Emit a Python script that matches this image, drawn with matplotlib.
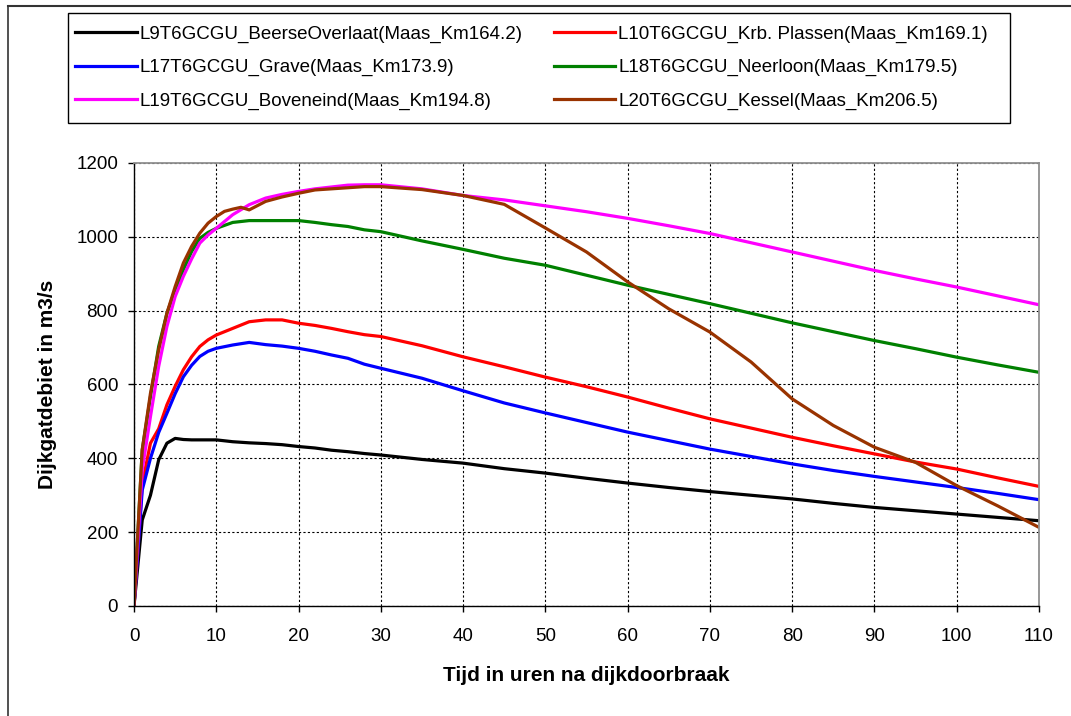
import matplotlib.pyplot as plt
from matplotlib.lines import Line2D
from matplotlib.patches import Rectangle

plt.rcParams['font.family'] = ['Liberation Sans', 'DejaVu Sans']

# hours after the breach
hours = [0, 1, 2, 3, 4, 5, 6, 7, 8, 9, 10, 12, 14, 16, 18, 20, 22, 24, 26, 28, 30,
         35, 40, 45, 50, 55, 60, 65, 70, 75, 80, 85, 90, 95, 100, 105, 110]
hours_kessel = [0, 1, 2, 3, 4, 5, 6, 7, 8, 9, 10, 11, 12, 13, 14, 16, 18, 20, 22, 24, 26, 28, 30,
                35, 40, 45, 50, 55, 60, 65, 70, 75, 80, 85, 90, 95, 100, 105, 110]

q_beerse = [0, 233, 300, 396, 441, 454, 451, 450, 450, 450, 450, 445, 442, 440, 437, 432, 428, 422, 418, 413, 409,
            397, 387, 372, 360, 346, 333, 321, 310, 300, 290, 278, 267, 258, 249, 240, 231]
q_plassen = [0, 330, 441, 480, 545, 595, 640, 675, 703, 721, 734, 752, 770, 775, 775, 766, 760, 752, 743, 735, 730,
             705, 675, 648, 620, 594, 566, 536, 507, 482, 457, 434, 412, 390, 371, 347, 324]
q_grave = [0, 314, 400, 470, 522, 575, 621, 652, 676, 690, 698, 707, 714, 708, 704, 698, 690, 680, 671, 655, 644,
           617, 583, 550, 523, 497, 471, 448, 425, 405, 385, 367, 351, 336, 321, 305, 288]
q_neerloon = [0, 423, 567, 703, 793, 856, 911, 960, 996, 1012, 1023, 1039, 1044, 1044, 1044, 1044, 1039, 1033, 1028, 1019, 1014,
              989, 966, 942, 923, 896, 869, 844, 819, 793, 767, 743, 719, 697, 674, 653, 633]
q_boveneind = [0, 369, 513, 649, 757, 838, 893, 940, 983, 1005, 1023, 1060, 1087, 1105, 1115, 1123, 1130, 1135, 1140, 1141, 1141,
               1130, 1112, 1100, 1084, 1068, 1050, 1030, 1009, 984, 959, 934, 909, 886, 864, 840, 816]
q_kessel = [0, 423, 576, 694, 793, 865, 929, 974, 1010, 1037, 1055, 1069, 1075, 1080, 1073, 1096, 1108, 1118, 1127, 1130, 1133, 1136, 1136,
            1128, 1112, 1088, 1024, 959, 878, 805, 742, 661, 561, 489, 430, 389, 326, 271, 213]

labels = ['L9T6GCGU_BeerseOverlaat(Maas_Km164.2)',
          'L10T6GCGU_Krb. Plassen(Maas_Km169.1)',
          'L17T6GCGU_Grave(Maas_Km173.9)',
          'L18T6GCGU_Neerloon(Maas_Km179.5)',
          'L19T6GCGU_Boveneind(Maas_Km194.8)',
          'L20T6GCGU_Kessel(Maas_Km206.5)']
colors = ['#000000', '#ff0000', '#0000ff', '#008000', '#ff00ff', '#993300']

W, H = 1071, 716
fig = plt.figure(figsize=(W / 100, H / 100), dpi=100)
ax = fig.add_axes([134 / W, 1 - 606 / H, (1039 - 134) / W, (606 - 163) / H])

series = [(hours, q_beerse), (hours, q_plassen), (hours, q_grave),
          (hours, q_neerloon), (hours, q_boveneind), (hours_kessel, q_kessel)]
for (x, y), c, lab in zip(series, colors, labels):
    ax.plot(x, y, color=c, lw=2.3, label=lab, solid_joinstyle='round')

ax.set_xlim(0, 110)
ax.set_ylim(0, 1200)
ax.set_xticks(range(0, 111, 10))
ax.set_yticks(range(0, 1201, 200))
ax.grid(True, color='black', linestyle=(0, (2, 2)), linewidth=0.8)
ax.tick_params(labelsize=13.5, direction='out', length=4, width=1)
ax.tick_params(axis='x', pad=12)
ax.tick_params(axis='y', pad=7.5)
for s in ['top', 'right']:
    ax.spines[s].set_color('#909090')
    ax.spines[s].set_linewidth(1.3)
for s in ['left', 'bottom']:
    ax.spines[s].set_color('black')
    ax.spines[s].set_linewidth(1)

ax.set_xlabel('Tijd in uren na dijkdoorbraak', fontsize=15, fontweight='bold', labelpad=15)
ax.set_ylabel('Dijkgatdebiet in m3/s', fontsize=15, fontweight='bold', labelpad=14)

# legend at the top, frame drawn separately
handles, labs = ax.get_legend_handles_labels()
order = [0, 2, 4, 1, 3, 5]
leg = fig.legend([handles[i] for i in order], [labs[i] for i in order],
                 loc='lower left', ncol=2, mode='expand',
                 bbox_to_anchor=(62 / W, 1 - 123 / H, (1001 - 62) / W, 110 / H),
                 fontsize=13.5, frameon=False, borderaxespad=0,
                 handlelength=3.3, handletextpad=0.15, labelspacing=0.87,
                 columnspacing=0.5, borderpad=0.7)
fig.add_artist(Rectangle((68 / W, 1 - 123 / H), (1010 - 68) / W, 110 / H,
                         transform=fig.transFigure, fill=False, edgecolor='black', lw=1))

# outer frame lines (top and left)
fig.add_artist(Line2D([8 / W, 1], [1 - 6 / H, 1 - 6 / H], color='#333333', lw=1.5))
fig.add_artist(Line2D([8 / W, 8 / W], [0, 1 - 6 / H], color='#333333', lw=1.2))

fig.savefig('out.png', dpi=100)
